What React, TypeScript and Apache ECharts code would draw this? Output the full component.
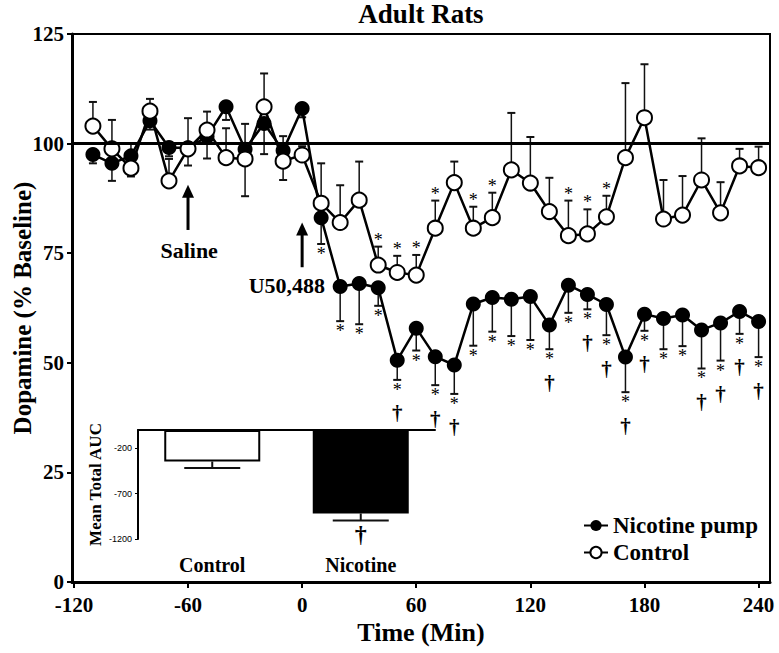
import React, { useEffect, useRef } from 'react';
import * as echarts from 'echarts';

const times = [-110, -100, -90, -80, -70, -60, -50, -40, -30, -20, -10, 0, 10, 20, 30, 40, 50, 60, 70, 80, 90, 100, 110, 120, 130, 140, 150, 160, 170, 180, 190, 200, 210, 220, 230, 240];
const nicotineMean = [97.5, 95.5, 97.2, 105.2, 99.1, 99.0, 101.6, 108.4, 98.7, 104.6, 98.4, 108.0, 83.1, 67.4, 68.1, 67.1, 50.6, 57.9, 51.4, 49.5, 63.4, 64.9, 64.5, 65.1, 58.6, 67.7, 65.6, 63.3, 51.3, 61.1, 60.1, 60.9, 57.5, 59.1, 61.7, 59.4];
const nicotineSem = [2.0, 4.0, 4.7, 2.0, 2.0, 4.0, 5.0, 3.0, 10.7, 7.0, 6.7, 2.0, 6.0, 7.9, 9.3, 4.1, 4.5, 5.1, 6.5, 6.6, 9.5, 7.8, 8.4, 9.9, 5.5, 6.3, 3.4, 7.0, 8.0, 3.8, 7.0, 7.1, 8.8, 8.6, 5.1, 8.1];
const controlMean = [104.0, 98.8, 94.4, 107.4, 91.5, 98.8, 103.1, 96.8, 96.5, 108.4, 96.0, 97.4, 86.4, 82.0, 87.1, 72.3, 70.6, 70.0, 80.7, 91.1, 80.7, 83.1, 94.0, 91.0, 84.5, 79.0, 79.4, 83.3, 96.8, 105.9, 82.8, 83.7, 91.7, 84.2, 94.9, 94.5];
const controlSem = [5.5, 6.6, 5.7, 2.8, 5.0, 7.0, 4.2, 6.7, 8.0, 7.6, 5.7, 2.0, 9.1, 8.5, 8.8, 4.2, 3.8, 4.6, 6.3, 4.8, 4.9, 5.7, 13.0, 10.5, 7.7, 8.0, 5.6, 4.8, 17.0, 12.2, 8.9, 8.9, 9.5, 7.0, 3.9, 4.8];
// 0 = none, 1 = '*', 2 = '*' and '†'
const nicotineSig = [0, 0, 0, 0, 0, 0, 0, 0, 0, 0, 0, 0, 1, 1, 1, 1, 2, 1, 2, 2, 1, 1, 1, 1, 2, 1, 2, 2, 2, 2, 1, 1, 2, 2, 2, 2];
const controlSig = [0, 0, 0, 0, 0, 0, 0, 0, 0, 0, 0, 0, 0, 0, 0, 1, 1, 1, 1, 0, 1, 1, 0, 0, 0, 1, 1, 1, 0, 0, 0, 0, 0, 0, 0, 0];

const xTicks = [-120, -60, 0, 60, 120, 180, 240];
const baseline = 100;

const aucGroups = ['Control', 'Nicotine'];
const aucMean = [-347, -919];
const aucSem = [72, 77];
const aucSig = [0, 1];
const aucTicks = [-1200, -700, -200];

const notes = [
  { label: 'Saline', t: -60, top: 90.6, bottom: 80.3, tx: -59.4, ty: 75.6 },
  { label: 'U50,488', t: 0, top: 82.0, bottom: 71.8, tx: -8, ty: 67.7 },
];

const SERIF = '"Liberation Serif", "Times New Roman", serif';

export default function App() {
  const ref = useRef<HTMLDivElement>(null);
  useEffect(() => {
    document.body.style.margin = '0';
    const chart = echarts.init(ref.current!, null, { renderer: 'svg' });

    const nicData = times.map((t, i) => [t, nicotineMean[i]]);
    const ctlData = times.map((t, i) => [t, controlMean[i]]);
    const nicErr = times.map((t, i) => [t, nicotineMean[i], nicotineSem[i], nicotineSig[i]]);
    const ctlErr = times.map((t, i) => [t, controlMean[i], controlSem[i], controlSig[i]]);
    const aucErr = aucGroups.map((g, i) => [i, aucMean[i], aucSem[i], aucSig[i]]);

    const errRender = (dir: number, capHalf: number, lw: number) => (params: any, api: any) => {
      const x = api.value(0), y = api.value(1), e = api.value(2);
      const p0 = api.coord([x, y]);
      const p1 = api.coord([x, y + dir * e]);
      return {
        type: 'group',
        children: [
          { type: 'line', shape: { x1: p0[0], y1: p0[1], x2: p1[0], y2: p1[1] }, style: { stroke: '#111', lineWidth: lw } },
          { type: 'line', shape: { x1: p1[0] - capHalf, y1: p1[1], x2: p1[0] + capHalf, y2: p1[1] }, style: { stroke: '#111', lineWidth: 2 } },
        ],
      };
    };

    const starFont = `18px ${SERIF}`;
    const daggerFont = `bold 21px ${SERIF}`;

    const sigRender = (dir: number) => (params: any, api: any) => {
      const sig = api.value(3);
      const children: any[] = [];
      if (sig) {
        const p = api.coord([api.value(0), api.value(1) + dir * api.value(2)]);
        if (dir < 0) {
          children.push({ type: 'text', x: p[0], y: p[1] + 1, style: { text: '*', font: starFont, fill: '#000', align: 'center', verticalAlign: 'top' } });
          if (sig === 2) {
            children.push({ type: 'text', x: p[0], y: p[1] + 23, style: { text: '†', font: daggerFont, fill: '#000', align: 'center', verticalAlign: 'top' } });
          }
        } else {
          children.push({ type: 'text', x: p[0], y: p[1] - 16, style: { text: '*', font: starFont, fill: '#000', align: 'center', verticalAlign: 'top' } });
        }
      }
      return { type: 'group', children };
    };

    const aucErrRender = (params: any, api: any) => {
      const x = api.value(0), y = api.value(1), e = api.value(2), sig = api.value(3);
      const p0 = api.coord([x, y]);
      const p1 = api.coord([x, y - e]);
      const children: any[] = [
        { type: 'line', shape: { x1: p0[0], y1: p0[1], x2: p1[0], y2: p1[1] }, style: { stroke: '#111', lineWidth: 2 } },
        { type: 'line', shape: { x1: p1[0] - 28, y1: p1[1], x2: p1[0] + 28, y2: p1[1] }, style: { stroke: '#111', lineWidth: 2 } },
      ];
      if (sig) {
        children.push({ type: 'text', x: p1[0], y: p1[1] + 2, style: { text: '†', font: `bold 24px ${SERIF}`, fill: '#000', align: 'center', verticalAlign: 'top' } });
      }
      return { type: 'group', children };
    };

    chart.setOption({
      animation: false,
      backgroundColor: '#fff',
      title: {
        text: 'Adult Rats',
        left: 421,
        top: 0,
        padding: 0,
        textAlign: 'center',
        textStyle: { fontFamily: SERIF, fontWeight: 'bold', fontSize: 27, color: '#000' },
      },
      legend: {
        data: ['Nicotine pump', 'Control'],
        orient: 'vertical',
        left: 578,
        top: 509,
        itemWidth: 24,
        itemHeight: 14,
        itemGap: 4,
        textStyle: { fontFamily: SERIF, fontWeight: 'bold', fontSize: 23, color: '#000' },
      },
      grid: [
        { left: 72, top: 34, width: 698, height: 548, show: true, borderColor: '#000', borderWidth: 2, backgroundColor: 'transparent', outerBoundsMode: 'none', containLabel: false },
        { left: 138, top: 430, width: 297, height: 109, outerBoundsMode: 'none', containLabel: false },
      ],
      xAxis: [
        {
          type: 'value', gridIndex: 0, min: -121, max: 246,
          name: 'Time (Min)', nameLocation: 'middle', nameGap: 36,
          nameTextStyle: { fontFamily: SERIF, fontWeight: 'bold', fontSize: 26, color: '#000' },
          axisLine: { show: true, onZero: false, lineStyle: { color: '#000', width: 3 } },
          axisTick: { show: true, length: 6, lineStyle: { color: '#000', width: 2 }, customValues: xTicks },
          axisLabel: { customValues: xTicks, fontFamily: SERIF, fontWeight: 'bold', fontSize: 21, color: '#000', margin: 12 },
          splitLine: { show: false },
        },
        {
          type: 'category', gridIndex: 1, data: aucGroups, position: 'top',
          axisLine: { show: true, onZero: false, lineStyle: { color: '#000', width: 2 } },
          axisTick: { show: false }, axisLabel: { show: false },
        },
        {
          type: 'category', gridIndex: 1, data: aucGroups, position: 'bottom',
          axisLine: { show: false, onZero: false }, axisTick: { show: false },
          axisLabel: { fontFamily: SERIF, fontWeight: 'bold', fontSize: 20, color: '#000', margin: 16 },
        },
      ],
      yAxis: [
        {
          type: 'value', gridIndex: 0, min: 0, max: 125, interval: 25,
          axisLine: { show: true, onZero: false, lineStyle: { color: '#000', width: 3 } },
          axisTick: { show: true, length: 5, lineStyle: { color: '#000', width: 2 } },
          axisLabel: { fontFamily: SERIF, fontWeight: 'bold', fontSize: 21, color: '#000', margin: 8 },
          splitLine: { show: false },
        },
        {
          type: 'value', gridIndex: 1, min: -1200, max: 0,
          name: 'Mean Total AUC', nameLocation: 'middle', nameGap: 34, nameRotate: 90,
          nameTextStyle: { fontFamily: SERIF, fontWeight: 'bold', fontSize: 17, color: '#000' },
          axisLine: { show: true, onZero: false, lineStyle: { color: '#000', width: 2 } },
          axisTick: { show: true, length: 3, customValues: aucTicks, lineStyle: { color: '#000', width: 1 } },
          axisLabel: { customValues: aucTicks, formatter: (v: number) => String(v), fontFamily: '"Liberation Sans", Arial, sans-serif', fontSize: 9, color: '#000', margin: 6 },
          splitLine: { show: false },
        },
      ],
      series: [
        {
          type: 'custom', name: 'nicErr', xAxisIndex: 0, yAxisIndex: 0, z: 2,
          renderItem: errRender(-1, 4, 1.5), data: nicErr, silent: true,
          markLine: {
            silent: true, symbol: 'none', label: { show: false },
            lineStyle: { color: '#000', width: 3, type: 'solid' },
            data: [{ yAxis: baseline }],
          },
        },
        {
          type: 'custom', name: 'ctlErr', xAxisIndex: 0, yAxisIndex: 0, z: 2,
          renderItem: errRender(1, 4, 1.5), data: ctlErr, silent: true,
        },
        {
          type: 'line', name: 'Nicotine pump', xAxisIndex: 0, yAxisIndex: 0, z: 3,
          data: nicData, symbol: 'circle', symbolSize: 15,
          itemStyle: { color: '#000' }, lineStyle: { color: '#000', width: 2.5 },
        },
        {
          type: 'line', name: 'Control', xAxisIndex: 0, yAxisIndex: 0, z: 4,
          data: ctlData, symbol: 'circle', symbolSize: 15,
          itemStyle: { color: '#fff', borderColor: '#000', borderWidth: 2 }, lineStyle: { color: '#000', width: 2.5 },
        },
        {
          type: 'custom', name: 'nicSig', xAxisIndex: 0, yAxisIndex: 0, z: 5,
          renderItem: sigRender(-1), data: nicErr, silent: true,
        },
        {
          type: 'custom', name: 'ctlSig', xAxisIndex: 0, yAxisIndex: 0, z: 5,
          renderItem: sigRender(1), data: ctlErr, silent: true,
        },
        {
          type: 'bar', name: 'AUC', xAxisIndex: 2, yAxisIndex: 1, z: 6,
          data: aucMean.map((v, i) => ({
            value: v,
            itemStyle: i === 0 ? { color: '#fff', borderColor: '#000', borderWidth: 2 } : { color: '#000', borderColor: '#000', borderWidth: 2 },
          })),
          barWidth: 96,
        },
        {
          type: 'custom', name: 'aucErr', xAxisIndex: 2, yAxisIndex: 1, z: 7,
          renderItem: aucErrRender, data: aucErr, silent: true,
        },
      ],
    });

    const graphic: any[] = [];
    notes.forEach((n) => {
      const pTop = chart.convertToPixel({ gridIndex: 0 }, [n.t, n.top]) as number[];
      const pBot = chart.convertToPixel({ gridIndex: 0 }, [n.t, n.bottom]) as number[];
      const pTxt = chart.convertToPixel({ gridIndex: 0 }, [n.tx, n.ty]) as number[];
      graphic.push({ type: 'line', shape: { x1: pBot[0], y1: pBot[1], x2: pTop[0], y2: pTop[1] + 10 }, style: { stroke: '#000', lineWidth: 3 } });
      graphic.push({ type: 'polygon', shape: { points: [[pTop[0], pTop[1]], [pTop[0] - 6, pTop[1] + 13], [pTop[0] + 6, pTop[1] + 13]] }, style: { fill: '#000' } });
      graphic.push({ type: 'text', x: pTxt[0], y: pTxt[1], style: { text: n.label, font: `bold 22px ${SERIF}`, fill: '#000', align: 'center', verticalAlign: 'middle' } });
    });
    graphic.push({
      type: 'text', x: 22, y: 308, rotation: Math.PI / 2,
      style: { text: 'Dopamine (% Baseline)', font: `bold 25px ${SERIF}`, fill: '#000', align: 'center', verticalAlign: 'middle' },
    });
    chart.setOption({ graphic });

    return () => chart.dispose();
  }, []);
  return <div ref={ref} style={{ width: 779, height: 653 }} />;
}
